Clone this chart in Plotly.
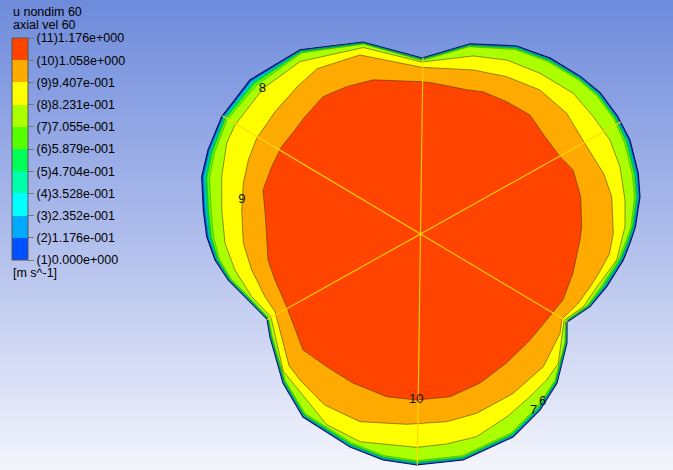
import numpy as np
import plotly.graph_objects as go

# ---- contour levels of axial velocity (u nondim 60) ----
levels = [0.0, 0.1176, 0.2352, 0.3528, 0.4704, 0.5879, 0.7055, 0.8231, 0.9407, 1.058, 1.176]
tick_labels = ["(1)0.000e+000", "(2)1.176e-001", "(3)2.352e-001", "(4)3.528e-001",
               "(5)4.704e-001", "(6)5.879e-001", "(7)7.055e-001", "(8)8.231e-001",
               "(9)9.407e-001", "(10)1.058e+000", "(11)1.176e+000"]
band_colors = ["#0050FF", "#00AAFF", "#00FFFF", "#00FFAA", "#00FF55",
               "#55FF00", "#AAFF00", "#FFFF00", "#FFAA00", "#FF4400"]

# ---- contour lines in polar form (angle in degrees, radius) ----
# level 1: the wall of the trilobed section
wall_theta = [1.9, 9.6, 15.6, 24.2, 30.9, 38.1, 44.6, 53.6, 62.9, 75.4,
              89.5, 106.7, 123.2, 137.9, 149.5, 158.4, 165.3, 173.7, 180.7, 187.2,
              193.5, 199.7, 209.0, 214.4, 227.3, 237.3, 251.7, 260.6, 269.1, 280.7,
              294.5, 304.2, 312.5, 323.3, 329.0, 336.8, 344.2, 352.7, 357.5]
wall_r = [215.0, 222.6, 226.1, 229.6, 229.5, 228.5, 224.5, 218.5, 211.2, 196.5,
          176.0, 200.4, 220.0, 229.8, 230.8, 228.5, 226.2, 218.5, 213.8, 207.1,
          197.6, 186.4, 175.5, 182.4, 202.8, 217.5, 224.4, 229.1, 231.0, 230.0,
          223.1, 212.7, 202.1, 182.6, 170.9, 184.4, 193.5, 204.5, 209.7]
# level 7 (same angles as the wall)
l7_r = [210.5, 217.0, 220.0, 223.5, 225.0, 224.0, 220.5, 214.2, 207.2, 193.5,
        173.5, 198.2, 216.5, 221.5, 224.5, 221.5, 218.2, 210.5, 207.0, 202.5,
        194.5, 183.5, 173.5, 180.0, 199.5, 213.5, 220.0, 224.6, 226.6, 225.6,
        218.6, 208.4, 198.8, 180.2, 169.0, 181.5, 188.5, 199.5, 205.0]
# levels 2..6 sit inside the thin wall layer, as a share of the wall-to-level-7 gap
wall_layer_share = [0.15, 0.28, 0.40, 0.52, 0.66]

l8_theta = [2.0, 9.4, 18.6, 26.4, 34.2, 42.6, 53.4, 63.6, 73.5, 89.6,
            107.0, 124.9, 137.2, 149.6, 154.9, 163.9, 173.1, 182.7, 191.0, 200.4,
            209.0, 225.0, 243.8, 253.8, 269.0, 277.1, 285.5, 295.6, 303.9, 310.8,
            316.8, 329.0, 335.9, 344.0, 352.5]
l8_r = [204.6, 207.3, 210.5, 211.5, 208.9, 207.7, 200.3, 194.2, 185.7, 172.0,
        195.0, 210.3, 214.3, 215.2, 214.0, 206.9, 200.2, 195.7, 189.0, 180.0,
        171.0, 194.0, 212.5, 216.3, 213.4, 211.6, 210.3, 202.0, 196.1, 193.0,
        189.0, 167.5, 178.3, 185.0, 197.9]

l9_theta = [0.2, 11.0, 18.0, 30.0, 39.5, 50.3, 61.3, 72.2, 89.6, 108.7,
            122.0, 130.0, 140.0, 149.7, 156.7, 164.0, 172.4, 183.0, 192.0, 202.0,
            208.1, 225.0, 230.5, 240.6, 252.1, 265.9, 277.9, 287.4, 300.2, 312.8,
            324.6, 329.0, 336.0, 343.0, 348.0, 354.0]
l9_r = [192.8, 194.8, 193.0, 187.5, 189.6, 187.1, 179.4, 172.3, 166.7, 189.0,
        195.0, 192.0, 190.0, 189.7, 187.4, 184.3, 180.4, 177.4, 172.6, 167.7,
        164.9, 186.0, 189.3, 196.0, 197.2, 190.8, 189.5, 187.9, 184.4, 180.8,
        171.2, 165.0, 172.0, 178.0, 183.0, 190.0]

l10_theta = [2.6, 13.2, 22.7, 29.0, 38.0, 47.4, 56.9, 66.3, 72.2, 85.3,
             89.5, 107.0, 116.6, 125.4, 134.6, 140.4, 147.8, 155.7, 164.4, 172.0,
             180.0, 189.7, 197.5, 208.5, 224.6, 234.7, 245.6, 258.3, 268.7, 280.3,
             291.8, 303.7, 316.0, 325.7, 335.2, 345.7, 357.8]
l10_r = [161.4, 164.5, 165.5, 159.5, 158.0, 161.7, 157.9, 155.4, 151.5, 151.5,
         152.3, 161.2, 164.8, 168.4, 164.6, 163.0, 164.0, 163.3, 163.5, 157.0,
         154.0, 154.7, 152.6, 152.3, 165.0, 162.5, 163.6, 166.2, 166.0, 165.4,
         160.4, 155.0, 152.4, 152.6, 157.0, 157.4, 159.6]

# section lines through the centre and contour labels
spoke_angles = [29.2, 89.2, 149.2]
label_text = ["8", "9", "10", "7", "6"]
label_level = [8, 9, 10, 7, 6]
label_angle = [137.5, 169.0, 268.5, 302.6, 306.0]

# ---- build the level polygons ----
wall = np.array(wall_r)
l7 = np.array(l7_r)
contours = {1: (wall_theta, wall_r)}
for i, share in enumerate(wall_layer_share):
    contours[i + 2] = (wall_theta, list(wall - share * (wall - l7)))
contours[7] = (wall_theta, l7_r)
contours[8] = (l8_theta, l8_r)
contours[9] = (l9_theta, l9_r)
contours[10] = (l10_theta, l10_r)


def radius_at(level, angle):
    th, rr = contours[level]
    return float(np.interp(angle % 360, th, rr, period=360))


fig = go.Figure()

# background shading
bg_bottom, bg_mid, bg_top = "rgb(244,245,252)", "rgb(175,189,236)", "rgb(110,139,219)"
fig.add_trace(go.Heatmap(
    x=[0, 1], y=[0, 0.5, 1], z=[[0, 0], [0.5, 0.5], [1, 1]],
    zmin=0, zmax=1, zsmooth="best", showscale=False, hoverinfo="skip",
    colorscale=[[0, bg_bottom], [0.5, bg_mid], [1, bg_top]],
    xaxis="x", yaxis="y"))

# colour legend
n_bands = len(band_colors)
cscale = []
for k, c in enumerate(band_colors):
    cscale.append([k / n_bands, c])
    cscale.append([(k + 1) / n_bands, c])

W, H = 673, 470
fig.add_trace(go.Scatter(
    x=[None], y=[None], mode="markers", hoverinfo="skip", showlegend=False,
    marker=dict(color=[levels[0]], cmin=levels[0], cmax=levels[-1], colorscale=cscale,
                showscale=True,
                colorbar=dict(
                    x=12 / W, xanchor="left", xpad=0,
                    y=1 - 38 / H, yanchor="top", ypad=0,
                    len=222 / H, lenmode="fraction",
                    thickness=16, thicknessmode="pixels",
                    tickvals=levels, ticktext=tick_labels,
                    ticks="outside", ticklen=6, tickwidth=1, tickcolor="#777",
                    tickfont=dict(family="Liberation Sans, Arial", size=12.5, color="#000"),
                    outlinewidth=1, outlinecolor="#555",
                    bgcolor="rgba(0,0,0,0)", borderwidth=0))))

# filled contour bands, outermost first
for lvl in range(1, 11):
    th, rr = contours[lvl]
    th = list(th) + [th[0]]
    rr = list(rr) + [rr[0]]
    if lvl == 1:
        line = dict(color="rgba(0,0,90,0.9)", width=1.2)
    elif lvl <= 7:
        line = dict(color="rgba(0,40,40,0.45)", width=0.6)
    else:
        line = dict(color="rgba(60,45,0,0.65)", width=0.8)
    fig.add_trace(go.Scatterpolar(
        theta=th, r=rr, mode="lines", fill="toself",
        fillcolor=band_colors[lvl - 1], line=line,
        hoverinfo="skip", showlegend=False))

# section lines
for a in spoke_angles:
    fig.add_trace(go.Scatterpolar(
        theta=[a, a, a + 180], r=[radius_at(1, a), 0, radius_at(1, a + 180)],
        mode="lines", line=dict(color="rgb(255,214,0)", width=1.1),
        hoverinfo="skip", showlegend=False))

# contour labels
for txt, lvl, ang in zip(label_text, label_level, label_angle):
    fig.add_trace(go.Scatterpolar(
        theta=[ang], r=[radius_at(lvl, ang)], mode="text", text=[txt],
        textfont=dict(family="Liberation Sans, Arial", size=13, color="#111"),
        hoverinfo="skip", showlegend=False))

cx, cy, R = 420.5, 234.0, 234.0
title_font = dict(family="Liberation Sans, Arial", size=12.5, color="#000")
fig.update_layout(
    width=W, height=H, margin=dict(l=0, r=0, t=0, b=0),
    paper_bgcolor="white", plot_bgcolor="rgba(0,0,0,0)", showlegend=False,
    xaxis=dict(domain=[0, 1], range=[0, 1], visible=False, fixedrange=True),
    yaxis=dict(domain=[0, 1], range=[0, 1], visible=False, fixedrange=True),
    polar=dict(
        domain=dict(x=[(cx - R) / W, (cx + R) / W],
                    y=[(H - cy - R) / H, (H - cy + R) / H]),
        bgcolor="rgba(0,0,0,0)",
        radialaxis=dict(range=[0, R], visible=False),
        angularaxis=dict(visible=False, rotation=0, direction="counterclockwise"),
    ),
    annotations=[
        dict(text="u nondim 60", x=11 / W, y=1 - 12 / H, xref="paper", yref="paper",
             xanchor="left", yanchor="middle", showarrow=False, font=title_font),
        dict(text="axial vel 60", x=11 / W, y=1 - 25 / H, xref="paper", yref="paper",
             xanchor="left", yanchor="middle", showarrow=False, font=title_font),
        dict(text="[m s^-1]", x=11 / W, y=1 - 273 / H, xref="paper", yref="paper",
             xanchor="left", yanchor="middle", showarrow=False, font=title_font),
    ],
)

fig.write_html("out.html")
